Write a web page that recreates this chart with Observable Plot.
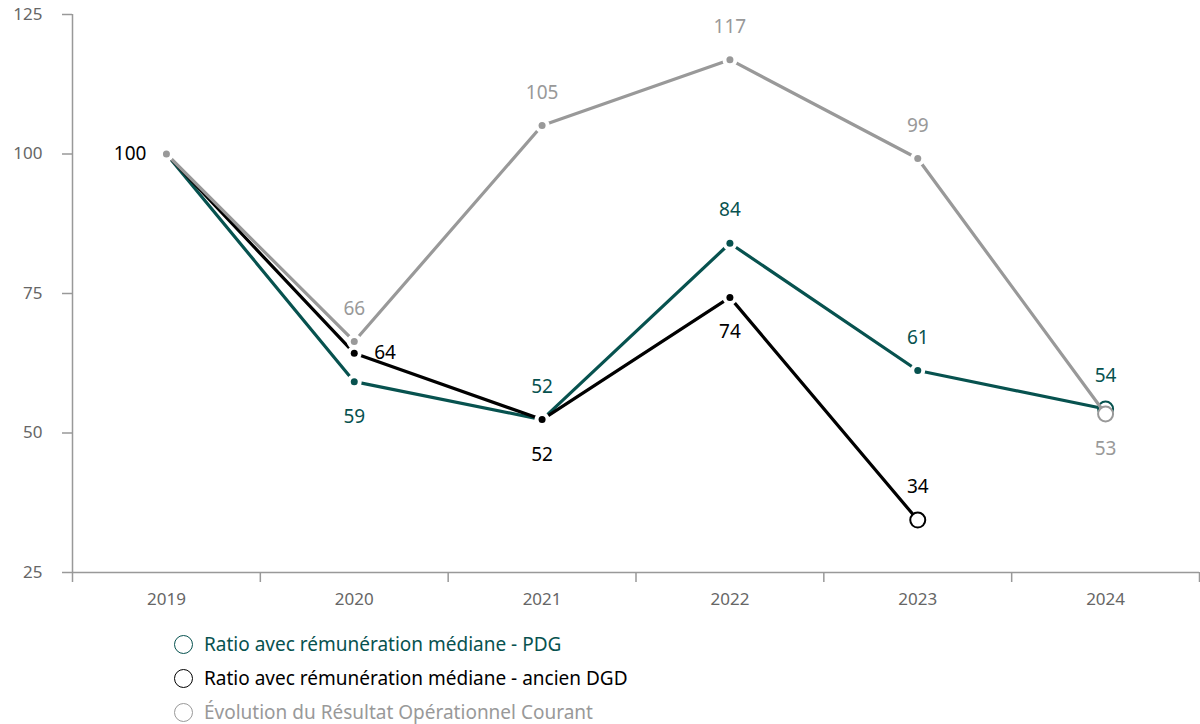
<!DOCTYPE html>
<html><head><meta charset="utf-8">
<script src="https://cdn.jsdelivr.net/npm/d3@7"></script>
<script src="https://cdn.jsdelivr.net/npm/@observablehq/plot@0.6"></script>
<style>
body{margin:0;background:#fff;font-family:"Noto Sans",sans-serif}
#legend{padding-left:174px;padding-top:7px}
.item{display:flex;align-items:center;height:34px;font-size:19px}
.sw{width:19px;height:19px;border:1.5px solid;border-radius:50%;box-sizing:border-box;margin-right:11px}
</style></head><body><div id="chart"></div><div id="legend"></div>
<script>
const years = [2019, 2020, 2021, 2022, 2023, 2024];
const pdgValues = [100, 59.2, 52.4, 84.0, 61.2, 54.3];
const dgdValues = [100, 64.3, 52.4, 74.3, 34.4, null];
const rocValues = [100, 66.4, 105.1, 116.9, 99.2, 53.4];
const seriesNames = [
  "Ratio avec rémunération médiane - PDG",
  "Ratio avec rémunération médiane - ancien DGD",
  "Évolution du Résultat Opérationnel Courant"
];
const yTicks = [25, 50, 75, 100, 125];

// label placement (style config)
const placements = [
  [null, "below", "above", "above", "above", "above"],
  ["left", "right", "below", "below", "above", null],
  [null, "above", "above", "above", "above", "below"]
];
const colors = ["#07524f", "#000000", "#999999"];

const allValues = [pdgValues, dgdValues, rocValues];
const series = allValues.map((vals, s) => {
  const pts = years.map((y, i) => ({year: y, value: vals[i], series: s, place: placements[s][i]}))
    .filter(d => d.value != null);
  return pts;
});

const marks = [
  Plot.axisX({ticks: d3.range(2018.5, 2025, 1), tickSize: 10, tickFormat: () => "", label: null, stroke: "#999", strokeWidth: 1.5}),
  Plot.axisX({ticks: years, tickSize: 0, tickPadding: 20, tickFormat: d => String(d), label: null, fill: "#666", fontSize: 17}),
  Plot.axisY({ticks: yTicks, tickSize: 10, tickFormat: () => "", label: null, stroke: "#999", strokeWidth: 1.5}),
  Plot.axisY({ticks: yTicks, tickSize: 0, tickPadding: 30, label: null, fill: "#666", fontSize: 17}),
  Plot.ruleX([2018.5], {stroke: "#999", strokeWidth: 1.5}),
  Plot.ruleY([25], {stroke: "#999", strokeWidth: 1.5})
];

series.forEach((pts, s) => {
  const c = colors[s];
  const last = pts[pts.length - 1];
  marks.push(
    Plot.line(pts, {x: "year", y: "value", stroke: c, strokeWidth: 3.2}),
    Plot.dot(pts.slice(0, -1), {x: "year", y: "value", r: 3.5, fill: c, stroke: "white", strokeWidth: 8, paintOrder: "stroke"}),
    Plot.dot([last], {x: "year", y: "value", r: 7.5, fill: "white", stroke: c, strokeWidth: 2})
  );
  const txt = {x: "year", y: "value", text: d => String(Math.round(d.value)), fill: c, fontSize: 19};
  marks.push(
    Plot.text(pts.filter(d => d.place === "above"), {...txt, dy: -33}),
    Plot.text(pts.filter(d => d.place === "below"), {...txt, dy: 35}),
    Plot.text(pts.filter(d => d.place === "left"), {...txt, dx: -20, textAnchor: "end"}),
    Plot.text(pts.filter(d => d.place === "right"), {...txt, dx: 20, textAnchor: "start"})
  );
});

const chart = Plot.plot({
  width: 1200, height: 620,
  marginLeft: 72, marginRight: 1, marginTop: 14, marginBottom: 48,
  style: {fontFamily: "Noto Sans", fontSize: "17px", background: "white"},
  x: {type: "linear", domain: [2018.5, 2024.5]},
  y: {domain: [25, 125]},
  marks
});
document.getElementById("chart").appendChild(chart);

const legend = document.getElementById("legend");
seriesNames.forEach((n, i) => {
  const row = document.createElement("div");
  row.className = "item";
  row.style.color = colors[i];
  const sw = document.createElement("span");
  sw.className = "sw";
  sw.style.borderColor = colors[i];
  const t = document.createElement("span");
  t.textContent = n;
  row.append(sw, t);
  legend.appendChild(row);
});
</script></body></html>
